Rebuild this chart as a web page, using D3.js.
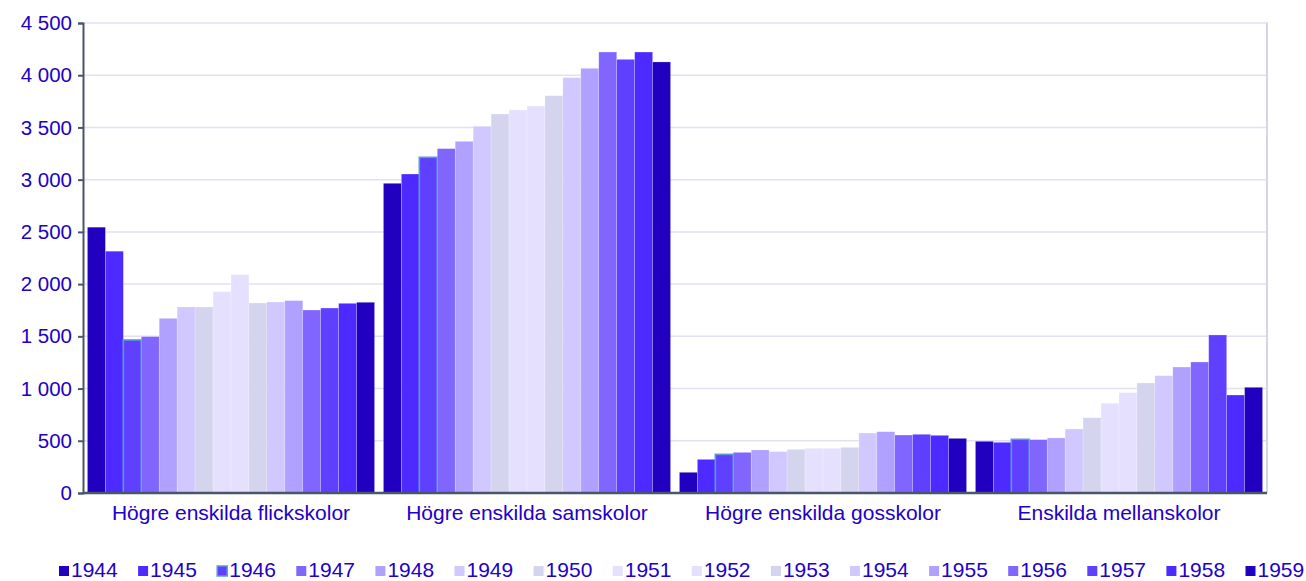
<!DOCTYPE html>
<html>
<head>
<meta charset="utf-8">
<script src="https://cdn.jsdelivr.net/npm/d3@7"></script>
<style>
  body { margin: 0; background: #fff; }
  svg text { font-family: "Liberation Sans", Arial, sans-serif; fill: #2200c8; }
</style>
</head>
<body>
<div id="chart"></div>
<script>
var categories = ["Högre enskilda flickskolor", "Högre enskilda samskolor", "Högre enskilda gosskolor", "Enskilda mellanskolor"];
var years = ["1944","1945","1946","1947","1948","1949","1950","1951","1952","1953","1954","1955","1956","1957","1958","1959"];
var colors = ["#2200c0","#4d2aff","#6040ff","#8066ff","#b0a0ff","#d0c8ff","#d4d4ee","#e6e0ff",
              "#e6e0ff","#d4d4ee","#d0c8ff","#b0a0ff","#8066ff","#6040ff","#4d2aff","#2200c0"];

// values per category, one per year 1944..1959
var flickskolor = [2545, 2315, 1465, 1497, 1672, 1781, 1781, 1928, 2091, 1819, 1829, 1842, 1752, 1771, 1816, 1826];
var samskolor   = [2965, 3054, 3214, 3297, 3367, 3511, 3629, 3667, 3705, 3804, 3977, 4066, 4222, 4152, 4222, 4127];
var gosskolor   = [198, 322, 370, 389, 412, 396, 418, 428, 428, 437, 574, 587, 555, 562, 552, 523];
var mellanskolor = [495, 485, 514, 511, 527, 613, 721, 859, 961, 1053, 1123, 1206, 1254, 1513, 938, 1012];
var yTicks = [0, 500, 1000, 1500, 2000, 2500, 3000, 3500, 4000, 4500];

var series = [flickskolor, samskolor, gosskolor, mellanskolor];

var W = 1306, H = 581;
var pLeft = 83, pRight = 1267, pTop = 23, pBottom = 493;

var svg = d3.select("#chart").append("svg")
  .attr("width", W).attr("height", H);

var x0 = d3.scaleBand().domain(categories).range([pLeft, pRight])
  .paddingInner(0.03).paddingOuter(0.015);
var x1 = d3.scaleBand().domain(years).range([0, x0.bandwidth()]);
var y = d3.scaleLinear().domain([0, 4500]).range([pBottom, pTop]);

// grid
svg.append("g").selectAll("line")
  .data(yTicks.filter(function(d){ return d > 0; }))
  .enter().append("line")
  .attr("x1", pLeft).attr("x2", pRight)
  .attr("y1", function(d){ return y(d); }).attr("y2", function(d){ return y(d); })
  .attr("stroke", "#e2e0f5").attr("stroke-width", 1.5);

// right border
svg.append("line")
  .attr("x1", pRight).attr("x2", pRight).attr("y1", pTop - 0.75).attr("y2", pBottom)
  .attr("stroke", "#d4d4ee").attr("stroke-width", 2);

// bars
var groups = svg.append("g").selectAll("g")
  .data(categories).enter().append("g")
  .attr("transform", function(d){ return "translate(" + x0(d) + ",0)"; });

groups.selectAll("rect")
  .data(function(d, i){ return years.map(function(yr, j){ return {year: yr, j: j, v: series[i][j]}; }); })
  .enter().append("rect")
  .attr("x", function(d){ return x1(d.year); })
  .attr("width", x1.bandwidth())
  .attr("y", function(d){ return y(d.v); })
  .attr("height", function(d){ return pBottom - y(d.v); })
  .attr("fill", function(d){ return colors[d.j]; })
  .attr("stroke", function(d){ return d.year == "1946" ? "#5b9bd5" : "rgba(255,255,255,0.35)"; })
  .attr("stroke-width", function(d){ return d.year == "1946" ? 1.6 : 0.6; });

// y axis
var yAxis = svg.append("g")
  .attr("transform", "translate(" + pLeft + ",0)")
  .call(d3.axisLeft(y).tickValues(yTicks).tickSize(5).tickPadding(6)
    .tickFormat(function(d){ return d3.format(",")(d).replace(/,/g, " "); }));
yAxis.select(".domain").attr("stroke", "#4a5568").attr("stroke-width", 2);
yAxis.selectAll(".tick line").attr("stroke", "#4a5568").attr("stroke-width", 2);
yAxis.selectAll("text").attr("font-size", "20.5px").style("fill", "#2200c8");

// x axis
var xAxis = svg.append("g")
  .attr("transform", "translate(0," + pBottom + ")")
  .call(d3.axisBottom(x0).tickSize(0).tickPadding(12));
xAxis.select(".domain").attr("stroke", "#4a5568").attr("stroke-width", 2.5)
  .attr("d", "M" + pLeft + ",0H" + pRight);
xAxis.selectAll("text").attr("font-size", "21px").style("fill", "#2200c8");

// legend
var legend = svg.append("g").selectAll("g")
  .data(years).enter().append("g")
  .attr("transform", function(d, i){ return "translate(" + (59 + i * 79.1) + ",566)"; });
legend.append("rect")
  .attr("width", 10).attr("height", 10)
  .attr("fill", function(d, i){ return colors[i]; })
  .attr("stroke", function(d){ return d == "1946" ? "#5b9bd5" : "none"; })
  .attr("stroke-width", 1.5);
legend.append("text")
  .attr("x", 12).attr("y", 10.5)
  .attr("font-size", "21px")
  .text(function(d){ return d; });
</script>
</body>
</html>
